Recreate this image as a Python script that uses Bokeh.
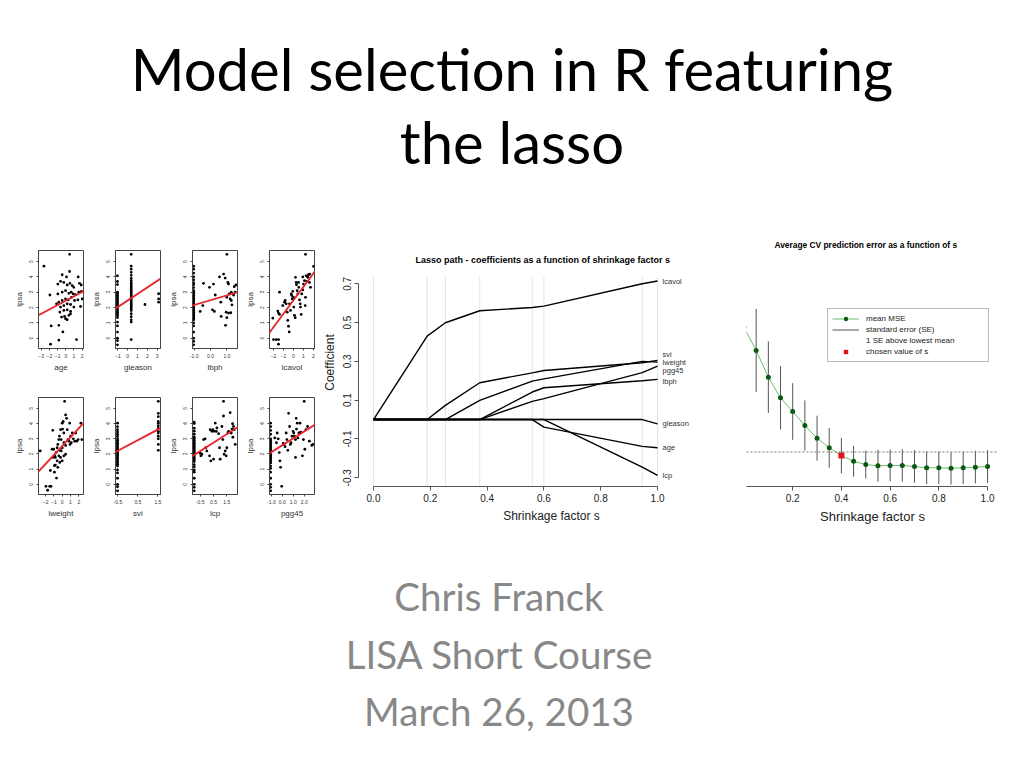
import numpy as np
from bokeh.plotting import figure
from bokeh.layouts import row, column
from bokeh.models import (Div, Slope, Span, FixedTicker, Legend, LegendItem, Range1d,
                          NumeralTickFormatter)
from bokeh.embed import file_html
from bokeh.resources import INLINE
from bokeh.core.properties import value

FONT = "Liberation Sans"

# ---------------- scatter panels (standardized predictor vs lpsa) ----------------
age_pts = [(0.46,5.47),(-2.67,4.70),(-1.94,2.82),(-1.78,0.80),(-1.86,-0.39),(-0.85,-0.13),(-0.85,0.84),
           (-0.36,0.41),(1.31,-0.09),(0.46,4.35),(1.51,4.00),(-0.44,4.14),(0.09,4.00),(-0.97,3.53),
           (-0.64,3.71),(-0.24,3.64),(0.17,3.47),(0.50,3.58),(0.78,3.43),(0.98,3.32),(1.67,3.58),
           (1.88,3.47),(-0.97,2.89),(-0.44,3.00),(-0.03,3.10),(0.37,2.93),(0.66,3.00),(0.90,2.89),
           (1.19,2.84),(1.59,3.00),(1.92,3.06),(-0.85,2.35),(-0.44,2.46),(-0.03,2.56),(0.29,2.50),
           (0.70,2.67),(1.07,2.46),(1.47,2.50),(2.00,2.56),(-1.13,2.24),(-0.64,2.03),(-0.24,2.13),
           (0.17,2.24),(0.58,2.20),(0.98,2.03),(-0.72,1.70),(-0.24,1.81),(0.17,1.85),(0.58,1.75),
           (-0.52,1.38),(-0.15,1.42),(0.37,1.49),(0.58,1.59),(-0.03,1.27),(0.17,1.21),(1.80,2.07)]

gleason_levels = [-1.04, 0.36, 1.76, 3.15]
gleason_lpsa = [
    [4.07,3.70,3.50,3.00,2.90,2.80,2.70,2.60,2.50,2.40,2.30,2.20,2.10,2.00,1.90,1.80,1.70,1.60,
     1.50,1.35,1.05,0.80,0.40,0.00,-0.16,-0.43],
    [5.47,4.70,4.50,4.30,4.10,3.90,3.75,3.60,3.50,3.40,3.30,3.20,3.10,3.00,2.90,2.80,2.70,2.60,
     2.50,2.40,2.30,2.20,2.10,2.00,1.90,1.80,1.60,1.40,1.20,1.05,-0.09],
    [2.20],
    [2.90,2.56,2.35]]

lbph_low = -1.03
lbph_low_lpsa = [4.70,4.50,4.25,4.00,3.80,3.60,3.50,3.30,3.10,3.00,2.90,2.80,2.70,2.60,2.50,2.40,2.30,
                 2.20,2.10,2.00,1.90,1.80,1.70,1.60,1.50,1.40,1.30,1.20,1.00,0.80,0.40,0.00,-0.20,-0.43]
lbph_pts = [(-0.43,3.58),(-0.06,3.32),(0.18,3.53),(0.29,2.82),(0.12,1.85),(0.24,1.75),(0.55,4.00),
            (0.63,2.35),(0.80,4.18),(0.90,3.92),(0.96,1.70),(1.00,1.34),(1.00,2.67),(1.00,5.47),
            (1.06,3.64),(1.10,3.53),(1.14,2.89),(1.20,2.56),(1.27,2.46),(1.24,1.66),(1.27,3.00),
            (1.10,1.64),(1.31,2.18),(1.41,2.82),(1.45,3.36),(1.51,3.00),(1.55,3.47),(-0.63,1.75),
            (-0.47,2.13),(0.92,0.84),(0.65,1.42)]

lcavol_pts = [(-2.0,-0.09),(-1.73,-0.09),(-1.5,-0.09),(-1.5,-0.39),(-2.07,1.31),(-1.4,3.0),(-1.57,1.77),
              (-1.5,1.64),(-1.4,1.55),(-1.07,2.13),(-0.9,2.35),(-0.83,2.46),(-0.73,2.24),(-0.63,1.7),
              (-0.57,1.16),(-0.5,0.78),(-0.43,0.41),(-0.4,2.24),(-0.3,1.81),(-0.23,2.89),(-0.17,2.78),
              (-0.13,2.56),(-0.07,3.06),(0.0,2.67),(0.03,2.03),(0.1,1.49),(0.17,1.34),(0.2,3.97),
              (0.27,3.64),(0.3,3.49),(0.37,3.1),(0.43,2.89),(0.5,3.64),(0.53,3.32),(0.6,2.5),(0.67,2.24),
              (0.7,2.03),(0.77,1.55),(0.83,2.89),(0.93,4.0),(0.93,3.15),(1.0,3.53),(1.1,3.75),(1.17,2.13),
              (1.2,2.67),(1.27,4.07),(1.33,3.71),(1.43,3.97),(1.5,4.14),(1.6,3.64),(1.7,3.32),(1.2,5.47),
              (2.0,4.68),(1.63,4.18)]

lweight_pts = [(-2.65,2.2),(-1.96,-0.13),(-1.76,-0.39),(-1.51,-0.13),(-1.35,-0.13),(-1.43,0.91),(-0.94,0.8),
               (-0.69,0.41),(-0.53,1.12),(-0.29,1.44),(-1.22,2.31),(-1.14,3.56),(-1.02,2.31),(-0.9,1.88),
               (-0.82,1.77),(-0.73,2.09),(-0.61,2.41),(-0.53,2.63),(-0.41,2.95),(-0.33,3.17),(-0.2,3.6),
               (-0.12,2.95),(-0.12,2.2),(0.0,4.03),(0.04,3.64),(0.12,4.14),(0.2,3.38),(0.2,2.74),
               (0.29,5.47),(0.41,4.57),(0.53,4.35),(0.61,3.6),(0.69,2.95),(0.82,2.84),(0.9,4.03),
               (0.94,2.63),(1.02,3.17),(1.1,2.74),(1.22,3.38),(1.35,3.0),(1.51,2.84),(1.63,3.38),
               (1.76,2.84),(1.92,2.95),(2.24,4.03),(2.37,2.95),(-0.41,1.88),(-0.2,1.77),(0.0,1.55),
               (-0.82,1.27),(-0.61,1.55),(0.2,1.88),(0.41,1.98),(-1.1,1.77),(-0.94,1.23),(-0.29,2.24),
               (0.0,2.41),(0.41,2.56)]

svi_levels = [-0.52, 1.52]
svi_lpsa = [
    [4.03,3.80,3.60,3.45,3.30,3.15,3.00,2.90,2.80,2.70,2.60,2.50,2.40,2.30,2.20,2.10,2.00,1.90,1.80,
     1.70,1.60,1.50,1.40,1.30,1.20,0.95,0.75,0.40,0.00,-0.16,-0.43],
    [5.47,4.68,4.46,4.14,4.03,3.86,3.70,3.49,3.38,3.17,3.00,2.63,2.24]]

lcp_low = -0.95
lcp_low_lpsa = [4.10,4.00,3.70,3.50,3.30,3.10,3.00,2.90,2.80,2.70,2.60,2.50,2.40,2.30,2.20,2.10,2.00,
                1.90,1.80,1.70,1.60,1.50,1.30,1.15,0.95,0.80,0.40,0.00,-0.20,-0.43]
lcp_pts = [(-0.5,2.05),(-0.45,1.88),(-0.38,1.98),(-0.25,2.95),(-0.13,3.0),(-0.08,2.41),(0.0,2.2),
           (0.2,1.88),(0.3,1.55),(0.25,3.6),(0.38,3.49),(0.45,3.6),(0.55,3.49),(0.63,4.03),(0.7,3.49),
           (0.75,3.71),(0.88,3.34),(0.95,2.41),(1.0,1.66),(1.13,3.81),(1.2,2.95),(1.25,4.5),(1.3,1.98),
           (1.38,2.2),(1.45,1.88),(1.5,2.41),(1.58,3.38),(1.63,3.49),(1.75,4.72),(1.83,3.38),(1.88,3.64),
           (1.93,3.99),(1.95,3.1),(2.0,3.81),(2.05,3.6),(2.13,2.63),(1.25,5.47),(0.5,1.66)]

pgg45_low = -1.07
pgg45_low_lpsa = [4.03,3.80,3.55,3.30,3.00,2.90,2.80,2.70,2.60,2.50,2.40,2.30,2.20,2.10,2.00,1.90,1.80,
                  1.70,1.60,1.50,1.40,1.20,1.05,0.80,0.40,0.00,-0.20,-0.43]
pgg45_pts = [(-0.69,3.06),(-0.54,2.74),(-0.47,3.38),(-0.38,3.0),(-0.28,2.09),(-0.22,1.55),(-0.16,1.12),
             (-0.06,-0.13),(0.09,2.69),(0.16,2.63),(0.25,2.48),(0.35,3.38),(0.41,2.95),(0.5,2.24),
             (0.57,4.68),(0.66,3.81),(0.73,2.63),(0.79,2.74),(0.88,3.17),(0.98,3.49),(1.04,3.38),
             (1.1,3.17),(1.2,1.77),(1.26,4.35),(1.29,3.64),(1.36,4.03),(1.51,3.38),(1.61,4.03),
             (1.67,3.43),(1.83,1.88),(1.92,2.95),(1.99,5.47),(2.05,2.31),(2.15,3.6),(2.3,3.81),
             (2.46,2.84),(2.68,2.56),(2.78,2.63),(1.2,2.95),(1.42,3.06)]

# fitted least-squares lines (slope, intercept)
fit_slope = {"age": 0.286, "gleason": 0.424, "lbph": 0.315, "lcavol": 0.88,
             "lweight": 0.587, "svi": 0.70, "lcp": 0.56, "pgg45": 0.456}
fit_icpt = {"age": 2.45, "gleason": 2.46, "lbph": 2.48, "lcavol": 2.48,
            "lweight": 2.52, "svi": 2.56, "lcp": 2.47, "pgg45": 2.58}

x_limits = {"age": (-3.33, 2.16), "gleason": (-1.24, 3.34), "lbph": (-1.10, 1.65),
            "lcavol": (-2.40, 2.10), "lweight": (-2.86, 2.57), "svi": (-0.62, 1.63),
            "lcp": (-1.08, 2.30), "pgg45": (-1.17, 2.93)}
x_ticks = {"age": [-3, -2, -1, 0, 1, 2], "gleason": [-1, 0, 1, 2, 3], "lbph": [-1, 0, 1],
           "lcavol": [-2, -1, 0, 1, 2], "lweight": [-2, -1, 0, 1, 2], "svi": [-0.5, 0.5, 1.5],
           "lcp": [-0.5, 0.5, 1.5], "pgg45": [-1, 0, 1, 2]}
one_decimal = {"lbph", "pgg45", "svi", "lcp"}
lpsa_ticks = [0, 1, 2, 3, 4, 5]


def expand(levels, groups):
    xs, ys = [], []
    for lv, g in zip(levels, groups):
        xs += [lv] * len(g)
        ys += list(g)
    return xs, ys


def unzip(pts):
    return [p[0] for p in pts], [p[1] for p in pts]


panel_data = {}
panel_data["age"] = unzip(age_pts)
panel_data["gleason"] = expand(gleason_levels, gleason_lpsa)
bx, by = expand([lbph_low], [lbph_low_lpsa]); ox, oy = unzip(lbph_pts)
panel_data["lbph"] = (bx + ox, by + oy)
panel_data["lcavol"] = unzip(lcavol_pts)
panel_data["lweight"] = unzip(lweight_pts)
panel_data["svi"] = expand(svi_levels, svi_lpsa)
bx, by = expand([lcp_low], [lcp_low_lpsa]); ox, oy = unzip(lcp_pts)
panel_data["lcp"] = (bx + ox, by + oy)
bx, by = expand([pgg45_low], [pgg45_low_lpsa]); ox, oy = unzip(pgg45_pts)
panel_data["pgg45"] = (bx + ox, by + oy)

row1_names = ["age", "gleason", "lbph", "lcavol"]
row2_names = ["lweight", "svi", "lcp", "pgg45"]


def small_panel(name, h, bottom):
    xs, ys = panel_data[name]
    p = figure(width=77, height=h, x_range=Range1d(*x_limits[name]), y_range=Range1d(-0.67, 5.72),
               output_backend="svg", toolbar_location=None, min_border_left=30, min_border_right=2,
               min_border_top=12, min_border_bottom=bottom, outline_line_color="#444",
               background_fill_color="white", border_fill_color="white")
    p.xgrid.visible = False
    p.ygrid.visible = False
    p.scatter(xs, ys, size=2.8, color="black", line_color=None)
    p.add_layout(Slope(gradient=fit_slope[name], y_intercept=fit_icpt[name],
                       line_color="#e8242b", line_width=1.8))
    p.xaxis.ticker = FixedTicker(ticks=x_ticks[name])
    p.yaxis.ticker = FixedTicker(ticks=lpsa_ticks)
    if name in one_decimal:
        p.xaxis.formatter = NumeralTickFormatter(format="0.0")
    p.xaxis.axis_label = name
    p.yaxis.axis_label = "lpsa"
    p.yaxis.major_label_orientation = "vertical"
    for ax in (p.xaxis[0], p.yaxis[0]):
        ax.major_label_text_font_size = "5px"
        ax.major_label_text_font = FONT
        ax.major_label_text_color = "#333"
        ax.axis_label_text_font_size = "8px"
        ax.axis_label_text_font = FONT
        ax.axis_label_text_font_style = "normal"
        ax.axis_label_text_color = "#333"
        ax.major_tick_out = 2
        ax.major_tick_in = 0
        ax.minor_tick_line_color = None
        ax.major_tick_line_color = "#444"
        ax.axis_line_color = "#444"
        ax.major_label_standoff = 3
    p.xaxis.axis_label_standoff = 2
    p.yaxis.axis_label_standoff = 3
    return p


r1 = [small_panel(n, 147, 37) for n in row1_names]
r2 = [small_panel(n, 145, 36) for n in row2_names]
grid = column(row(*r1, spacing=0), row(*r2, spacing=0), spacing=0)

# ---------------- lasso path ----------------
shrink_s = [0.0, 0.189, 0.253, 0.374, 0.559, 0.600, 0.946, 1.0]
coef_names = ["lcavol", "svi", "lweight", "pgg45", "lbph", "gleason", "age", "lcp"]
coef_lcavol = [0.0, 0.430, 0.499, 0.561, 0.578, 0.585, 0.700, 0.714]
coef_svi = [0.0, 0.0, 0.073, 0.190, 0.241, 0.253, 0.293, 0.305]
coef_lweight = [0.0, 0.0, 0.0, 0.099, 0.198, 0.210, 0.300, 0.296]
coef_pgg45 = [0.0, 0.0, 0.0, 0.0, 0.094, 0.108, 0.242, 0.276]
coef_lbph = [0.0, 0.0, 0.0, 0.0, 0.142, 0.164, 0.200, 0.207]
coef_gleason = [0.0, 0.0, 0.0, 0.0, 0.0, 0.0, 0.0, -0.022]
coef_age = [0.0, 0.0, 0.0, 0.0, 0.0, -0.039, -0.138, -0.145]
coef_lcp = [0.0, 0.0, 0.0, 0.0, 0.0, 0.0, -0.245, -0.288]
coef_paths = [coef_lcavol, coef_svi, coef_lweight, coef_pgg45, coef_lbph, coef_gleason, coef_age, coef_lcp]
label_nudge = [0, -6, 0, 4, 2, 0, 0, 0]   # pixel nudges to keep labels apart

# the frame reaches the top of the row so that the title can sit inside it
L_FRAME_H = 292 - 44
L_PX = 194.0                      # pixels per coefficient unit
L_Y0 = -0.345                     # bottom of the R plotting region
L_Y1 = 0.735                      # top of the R plotting region
L_TOP = L_Y0 + L_FRAME_H / L_PX

lasso = figure(width=428, height=292, x_range=Range1d(-0.0528, 1.306), y_range=Range1d(L_Y0, L_TOP),
               output_backend="svg", toolbar_location=None, min_border_left=42, min_border_right=0,
               min_border_top=0, min_border_bottom=44, outline_line_color=None,
               background_fill_color="white", border_fill_color="white")
lasso.xgrid.visible = False
lasso.ygrid.visible = False
lasso.segment(x0=shrink_s, y0=[L_Y0] * len(shrink_s), x1=shrink_s, y1=[L_Y1] * len(shrink_s),
              line_color="#e4e4e4", line_width=1)
for c in coef_paths:
    lasso.line(shrink_s, c, line_color="black", line_width=1.4)
end_vals = [c[-1] for c in coef_paths]
lasso.text(x=[shrink_s[-1]] * len(coef_names), y=end_vals, text=coef_names,
           x_offset=5, y_offset=label_nudge, text_font=value(FONT), text_font_size="7.5px",
           text_color="#333", text_baseline="middle", text_align="left")
lasso.text(x=[0.6], y=[L_TOP - 21 / L_PX],
           text=["Lasso path - coefficients  as a function of shrinkage factor s"],
           text_font=value(FONT), text_font_size="9px", text_font_style="bold",
           text_color="black", text_align="center", text_baseline="middle")
lasso.xaxis.ticker = FixedTicker(ticks=[0, 0.2, 0.4, 0.6, 0.8, 1.0])
lasso.yaxis.ticker = FixedTicker(ticks=[-0.3, -0.1, 0.1, 0.3, 0.5, 0.7])
lasso.xaxis.formatter = NumeralTickFormatter(format="0.0")
lasso.yaxis.formatter = NumeralTickFormatter(format="0.0")
lasso.xaxis.bounds = (0, 1)
lasso.yaxis.bounds = (-0.3, 0.7)
lasso.xaxis.axis_label = "Shrinkage factor s"
lasso.yaxis.axis_label = "Coefficient"
lasso.yaxis.major_label_orientation = "vertical"
for ax in (lasso.xaxis[0], lasso.yaxis[0]):
    ax.major_label_text_font_size = "10px"
    ax.major_label_text_font = FONT
    ax.major_label_text_color = "#222"
    ax.axis_label_text_font_size = "12px"
    ax.axis_label_text_font = FONT
    ax.axis_label_text_font_style = "normal"
    ax.axis_label_text_color = "#222"
    ax.major_tick_out = 4
    ax.major_tick_in = 0
    ax.minor_tick_line_color = None
    ax.major_tick_line_color = "#555"
    ax.axis_line_color = "#555"
    ax.major_label_standoff = 3
lasso.xaxis.axis_label_standoff = 4
lasso.yaxis.axis_label_standoff = 4

# ---------------- CV error ----------------
cv_s = [0.0, 0.05, 0.1, 0.15, 0.2, 0.25, 0.3, 0.35, 0.4, 0.45, 0.5, 0.55, 0.6, 0.65, 0.7, 0.75,
        0.8, 0.85, 0.9, 0.95, 1.0]
cv_mse = [1.40, 1.257, 1.093, 0.966, 0.882, 0.796, 0.718, 0.659, 0.611, 0.576, 0.556, 0.548,
          0.550, 0.550, 0.544, 0.536, 0.536, 0.533, 0.536, 0.540, 0.544]
cv_se = [0.29, 0.256, 0.22, 0.195, 0.174, 0.154, 0.138, 0.122, 0.109, 0.095, 0.086, 0.098,
         0.098, 0.10, 0.10, 0.10, 0.10, 0.10, 0.10, 0.10, 0.10]
chosen_s = 0.4

mse = np.array(cv_mse)
se = np.array(cv_se)
imin = int(np.argmin(mse))
one_se_level = mse[imin] + se[imin]
ichosen = cv_s.index(chosen_s)

CV_Y0 = 0.421
CV_PX = 162.7                    # pixels per MSE unit
CV_Y1 = 1.761                    # top of the R plotting region
CV_TOP = CV_Y1 + 30 / CV_PX      # frame reaches the top of the row so the title fits inside
cv = figure(width=272, height=292, x_range=Range1d(0.0103, 1.045), y_range=Range1d(CV_Y0, CV_TOP),
            output_backend="svg", toolbar_location=None, min_border_left=2, min_border_right=18,
            min_border_top=0, min_border_bottom=44, outline_line_color=None,
            background_fill_color="white", border_fill_color="white")
cv.xgrid.visible = False
cv.ygrid.visible = False
cv.yaxis.visible = False
r_se = cv.segment(x0=cv_s, y0=list(mse - se), x1=cv_s, y1=list(mse + se), line_color="#555", line_width=1)
cv.add_layout(Span(location=one_se_level, dimension="width", line_color="#777", line_width=1,
                   line_dash="2 2"))
r_dash = cv.line(x=[], y=[], line_color="#777", line_width=1, line_dash="2 2")
r_line = cv.line(cv_s, cv_mse, line_color="#6cbf6c", line_width=1)
r_pts = cv.scatter(cv_s, cv_mse, size=5, color="#0a5a14", line_color=None)
r_red = cv.scatter([chosen_s], [cv_mse[ichosen]], marker="square", size=6, color="#e8101c", line_color=None)
legend = Legend(items=[LegendItem(label="mean MSE", renderers=[r_line, r_pts]),
                       LegendItem(label="standard error (SE)", renderers=[r_se]),
                       LegendItem(label="1 SE above lowest mean", renderers=[r_dash]),
                       LegendItem(label="chosen value of s", renderers=[r_red])],
                location=(81, 124), label_text_font=FONT, label_text_font_size="8px",
                label_height=11, glyph_height=11, glyph_width=27, spacing=0, padding=4, margin=0,
                label_standoff=7, label_width=118, border_line_color="#777", border_line_width=1,
                background_fill_color="white", background_fill_alpha=1.0, label_text_color="#222")
cv.add_layout(legend)
cv.text(x=[(cv_s[0] + cv_s[-1]) / 2], y=[CV_Y1 + 23 / CV_PX],
        text=["Average CV prediction error as a function of s"],
        text_font=value(FONT), text_font_size="8.4px", text_font_style="bold",
        text_color="black", text_align="center", text_baseline="middle")
cv.xaxis.ticker = FixedTicker(ticks=[0, 0.2, 0.4, 0.6, 0.8, 1.0])
cv.xaxis.formatter = NumeralTickFormatter(format="0.0")
cv.xaxis.bounds = (0, 1)
cv.xaxis.axis_label = "Shrinkage factor s"
ax = cv.xaxis[0]
ax.major_label_text_font_size = "10px"
ax.major_label_text_font = FONT
ax.major_label_text_color = "#222"
ax.axis_label_text_font_size = "13px"
ax.axis_label_text_font = FONT
ax.axis_label_text_font_style = "normal"
ax.axis_label_text_color = "#222"
ax.major_tick_out = 4
ax.major_tick_in = 0
ax.minor_tick_line_color = None
ax.major_tick_line_color = "#555"
ax.axis_line_color = "#555"
ax.major_label_standoff = 3
ax.axis_label_standoff = 4

# ---------------- slide texts ----------------
title_lines = ["Model selection in R featuring", "the lasso"]
subtitle_lines = ["Chris Franck", "LISA Short Course", "March 26, 2013"]

title_div = Div(text="<br>".join(title_lines), width=1008, height=230, margin=0,
                styles={"font-family": "Lato", "font-size": "58px", "line-height": "73px",
                        "text-align": "center", "color": "#000", "padding-top": "24px",
                        "box-sizing": "border-box", "width": "1008px"})
sub_div = Div(text="<br>".join(subtitle_lines), width=1008, height=222, margin=0,
              styles={"font-family": "Lato", "font-size": "38.5px", "line-height": "57.5px",
                      "text-align": "center", "color": "#888888", "padding-top": "38px",
                      "padding-right": "26px", "box-sizing": "border-box", "width": "1008px"})

page = column(title_div, row(grid, lasso, cv, spacing=0), sub_div, spacing=0, margin=(8, 8, 8, 8))

open("out.html", "w").write(file_html(page, INLINE))
